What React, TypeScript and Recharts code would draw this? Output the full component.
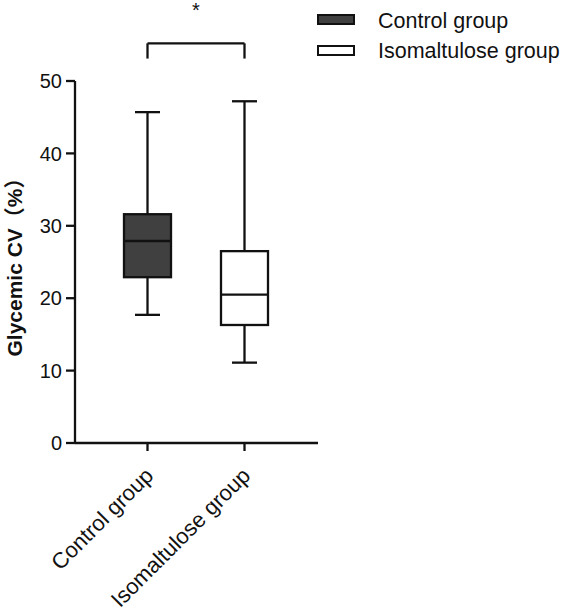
import React from "react";
import { Bar, ComposedChart, ReferenceLine, XAxis, YAxis } from "recharts";

const groups = ["Control group", "Isomaltulose group"];
const mins = [17.7, 11.1];
const q1s = [22.9, 16.3];
const medians = [27.9, 20.5];
const q3s = [31.6, 26.5];
const maxs = [45.7, 47.2];
const fills = ["#404040", "#ffffff"];
const yTicks = [0, 10, 20, 30, 40, 50];
const bracketTop = 55.2;
const bracketFoot = 53.1;

const FONT = '"Liberation Sans", Arial, "Noto Sans CJK SC", sans-serif';

const data = groups.map((name, i) => ({
  name,
  min: mins[i],
  q1: q1s[i],
  median: medians[i],
  q3: q3s[i],
  max: maxs[i],
  fill: fills[i],
}));

function BoxShape(props: any) {
  const { x, y, width, height, payload } = props;
  if (height == null || !payload) return null;
  const per = height / (payload.max - payload.min);
  const yOf = (v: number) => y + (payload.max - v) * per;
  const cx = x + width / 2;
  const cap = 12.5;
  return (
    <g stroke="#111" strokeWidth={2.3} fill="none">
      <line x1={cx} x2={cx} y1={yOf(payload.max)} y2={yOf(payload.q3)} />
      <line x1={cx} x2={cx} y1={yOf(payload.q1)} y2={yOf(payload.min)} />
      <line x1={cx - cap} x2={cx + cap} y1={yOf(payload.max)} y2={yOf(payload.max)} />
      <line x1={cx - cap} x2={cx + cap} y1={yOf(payload.min)} y2={yOf(payload.min)} />
      <rect
        x={x}
        y={yOf(payload.q3)}
        width={width}
        height={yOf(payload.q1) - yOf(payload.q3)}
        fill={payload.fill}
      />
      <line x1={x} x2={x + width} y1={yOf(payload.median)} y2={yOf(payload.median)} />
    </g>
  );
}

function XTick({ x, y, payload }: any) {
  return (
    <g transform={`translate(${x - 4},${y + 13})`}>
      <text
        x={0}
        y={0}
        dy="0.71em"
        textAnchor="end"
        transform="rotate(-45)"
        fontSize={22}
        fontFamily={FONT}
        fill="#111"
      >
        {payload.value}
      </text>
    </g>
  );
}

function LegendBox() {
  return (
    <div style={{ position: "absolute", left: 0, top: 0, fontFamily: FONT }}>
      {groups.map((g, i) => (
        <div key={g}>
          <div
            style={{
              position: "absolute",
              left: 317,
              top: 14 + i * 31,
              width: 34,
              height: 7,
              border: "2px solid #111",
              background: fills[i],
            }}
          />
          <div
            style={{
              position: "absolute",
              left: 378,
              top: 9.5 + i * 30,
              fontSize: 21.5,
              lineHeight: "22px",
              color: "#111",
              whiteSpace: "nowrap",
            }}
          >
            {g}
          </div>
        </div>
      ))}
    </div>
  );
}

export default function App() {
  return (
    <div style={{ position: "absolute", left: 0, top: 0, width: 567, height: 612, background: "#fff" }}>
      <ComposedChart
        width={567}
        height={612}
        data={data}
        margin={{ top: 81, right: 249, bottom: 0, left: 0 }}
      >
        <XAxis
          dataKey="name"
          height={169}
          padding={{ left: 24, right: 25 }}
          tickSize={8}
          tick={<XTick />}
          interval={0}
          stroke="#111"
          strokeWidth={2.3}
          tickLine={{ stroke: "#111", strokeWidth: 2.3 }}
        />
        <YAxis
          width={75}
          domain={[0, 50]}
          ticks={yTicks}
          tickSize={9}
          tickMargin={4}
          stroke="#111"
          strokeWidth={2.3}
          tickLine={{ stroke: "#111", strokeWidth: 2.3 }}
          tick={{ fontSize: 20, fill: "#111", fontFamily: FONT }}
          label={{
            value: "Glycemic CV（%）",
            angle: -90,
            position: "insideLeft",
            offset: 15,
            style: { fontSize: 21, fontWeight: "bold", fill: "#111", fontFamily: FONT, textAnchor: "middle" },
          }}
        />
        <Bar
          dataKey={(d: any) => [d.min, d.max]}
          barSize={47}
          shape={<BoxShape />}
          isAnimationActive={false}
          legendType="none"
        />
        <ReferenceLine
          ifOverflow="visible"
          stroke="#111"
          strokeWidth={2.3}
          segment={[
            { x: groups[0], y: bracketTop },
            { x: groups[1], y: bracketTop },
          ]}
          label={{ value: "*", position: "top", offset: 26, fontSize: 20, fill: "#111", fontFamily: FONT }}
        />
        <ReferenceLine
          ifOverflow="visible"
          stroke="#111"
          strokeWidth={2.3}
          segment={[
            { x: groups[0], y: bracketTop },
            { x: groups[0], y: bracketFoot },
          ]}
        />
        <ReferenceLine
          ifOverflow="visible"
          stroke="#111"
          strokeWidth={2.3}
          segment={[
            { x: groups[1], y: bracketTop },
            { x: groups[1], y: bracketFoot },
          ]}
        />
      </ComposedChart>
      <LegendBox />
    </div>
  );
}
